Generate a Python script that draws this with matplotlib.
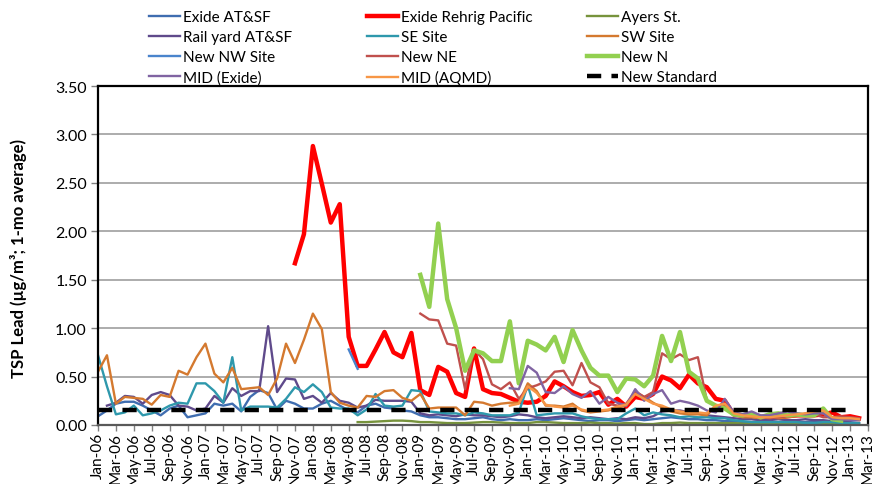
import numpy as np
import pandas as pd
import matplotlib
matplotlib.use('Agg')
import matplotlib.pyplot as plt

plt.rcParams['font.family'] = ['Lato', 'DejaVu Sans']

# monthly categories Jan-06 .. Mar-13
months = pd.date_range('2006-01-01', '2013-03-01', freq='MS').strftime('%b-%y').tolist()

# each series: first month index + monthly values (ug/m3, 1-mo average)
exide_atsf_start = 0
exide_atsf = [0.09, 0.15, 0.22, 0.24, 0.24, 0.20, 0.15, 0.10, 0.17, 0.20, 0.08, 0.10, 0.12, 0.22, 0.20, 0.22,
              0.14, 0.29, 0.36, 0.33, 0.16, 0.25,
              0.22, 0.17, 0.17, 0.22, 0.25, 0.20, 0.15, 0.13, 0.20, 0.22, 0.18, 0.17, 0.15, 0.14,
              0.10, 0.08, 0.08, 0.07, 0.06, 0.06, 0.07, 0.08, 0.06, 0.05,
              0.06, 0.05, 0.05, 0.06, 0.05, 0.06, 0.07, 0.06, 0.05, 0.04,
              0.05, 0.05, 0.04, 0.05, 0.06, 0.05, 0.06, 0.07, 0.08, 0.07,
              0.06, 0.06, 0.05, 0.05, 0.04, 0.04, 0.03, 0.03, 0.04, 0.03,
              0.03, 0.04, 0.03, 0.03, 0.04, 0.03, 0.03, 0.03, 0.03, 0.02]

rehrig_start = 22
rehrig = [1.67, 1.97, 2.88, 2.49, 2.09, 2.28, 0.91, 0.61, 0.61, 0.78, 0.96, 0.75, 0.70, 0.95,
          0.36, 0.31, 0.60, 0.55, 0.33, 0.29, 0.79, 0.37, 0.33, 0.32,
          0.28, 0.24, 0.23, 0.24, 0.30, 0.45, 0.40, 0.34, 0.30, 0.31,
          0.34, 0.21, 0.27, 0.19, 0.29, 0.27, 0.32, 0.50, 0.46, 0.38,
          0.52, 0.43, 0.39, 0.27, 0.25, 0.11, 0.10, 0.10, 0.08, 0.07,
          0.08, 0.09, 0.10, 0.10, 0.10, 0.11, 0.13, 0.08, 0.09, 0.07]

ayers_start = 29
ayers = [0.03, 0.03, 0.035, 0.04, 0.045, 0.045, 0.04, 0.03, 0.03, 0.025,
         0.02, 0.02, 0.02, 0.025, 0.03, 0.03, 0.025, 0.02, 0.02, 0.02,
         0.03, 0.03, 0.025, 0.02, 0.02, 0.02, 0.025, 0.02, 0.02, 0.015,
         0.02, 0.02, 0.01, 0.01, 0.02, 0.02, 0.025, 0.02, 0.02, 0.02,
         0.02, 0.02, 0.02, 0.015, 0.015, 0.02, 0.02, 0.015, 0.015, 0.02,
         0.02, 0.02, 0.015, 0.015, 0.01, 0.01, 0.01]

railyard_start = 1
railyard = [0.20, 0.23, 0.30, 0.29, 0.22, 0.31, 0.34, 0.31, 0.20, 0.19, 0.15, 0.17, 0.30, 0.23, 0.38,
            0.30, 0.35, 0.35, 1.02, 0.34, 0.48,
            0.47, 0.27, 0.30, 0.23, 0.33, 0.25, 0.23, 0.18, 0.20, 0.26, 0.25, 0.25, 0.25, 0.24,
            0.12, 0.10, 0.11, 0.10, 0.09, 0.11, 0.10, 0.10, 0.09, 0.08,
            0.09, 0.11, 0.10, 0.08, 0.07, 0.08, 0.09, 0.08, 0.07, 0.08,
            0.07, 0.06, 0.07, 0.06, 0.08, 0.07, 0.09, 0.14, 0.15, 0.15,
            0.13, 0.12, 0.10, 0.09, 0.08, 0.07, 0.06, 0.06, 0.05, 0.05,
            0.06, 0.05, 0.05, 0.06, 0.05, 0.05, 0.04, 0.04, 0.04]

se_start = 0
se_site = [0.72, 0.40, 0.11, 0.13, 0.20, 0.10, 0.12, 0.15, 0.20, 0.23, 0.22, 0.43, 0.43, 0.35, 0.23, 0.70,
           0.15, 0.19, 0.19, 0.19, 0.18, 0.27,
           0.39, 0.34, 0.42, 0.34, 0.18, 0.17, 0.17, 0.10, 0.16, 0.32, 0.20, 0.19, 0.20, 0.36, 0.35,
           0.14, 0.13, 0.12, 0.12, 0.10, 0.13, 0.12, 0.10, 0.10, 0.10,
           0.13, 0.41, 0.10, 0.11, 0.12, 0.12, 0.12, 0.09, 0.07, 0.06,
           0.06, 0.06, 0.12, 0.17, 0.10, 0.13, 0.11, 0.10, 0.08, 0.09,
           0.08, 0.08, 0.07, 0.07, 0.05, 0.04, 0.03, 0.03, 0.03, 0.03,
           0.03, 0.03, 0.02, 0.02, 0.03, 0.03, 0.02, 0.02, 0.02]

sw_start = 0
sw_site = [0.55, 0.72, 0.22, 0.29, 0.28, 0.27, 0.21, 0.31, 0.29, 0.56, 0.52, 0.70, 0.84, 0.53, 0.44, 0.59,
           0.37, 0.38, 0.39, 0.31, 0.48, 0.84,
           0.64, 0.88, 1.15, 0.99, 0.34, 0.23, 0.20, 0.18, 0.30, 0.29, 0.35, 0.36, 0.28, 0.25, 0.32,
           0.17, 0.18, 0.18, 0.18, 0.10, 0.24, 0.23, 0.20, 0.22, 0.23,
           0.23, 0.43, 0.35, 0.20, 0.20, 0.19, 0.22, 0.15, 0.13, 0.14,
           0.15, 0.18, 0.20, 0.34, 0.29, 0.23, 0.18, 0.14, 0.12, 0.11,
           0.11, 0.10, 0.20, 0.20, 0.10, 0.08, 0.08, 0.07, 0.08, 0.07,
           0.08, 0.09, 0.12, 0.14, 0.12, 0.06, 0.06, 0.06, 0.05]

nw_start = 28
nw_site = [0.78, 0.58]

ne_start = 36
ne_site = [1.15, 1.09, 1.08, 0.84, 0.82, 0.37, 0.78, 0.68, 0.42, 0.37,
           0.44, 0.27, 0.38, 0.41, 0.45, 0.55, 0.56, 0.41, 0.64, 0.44,
           0.39, 0.22, 0.20, 0.22, 0.35, 0.29, 0.34, 0.74, 0.68, 0.73,
           0.67, 0.70, 0.25, 0.20, 0.18, 0.10, 0.09, 0.10, 0.08, 0.07,
           0.08, 0.09, 0.10, 0.10, 0.11, 0.08, 0.08, 0.09, 0.08, 0.07]

n_start = 36
n_site = [1.55, 1.22, 2.08, 1.30, 1.00, 0.56, 0.77, 0.74, 0.66, 0.66,
          1.07, 0.43, 0.87, 0.83, 0.77, 0.91, 0.65, 0.98, 0.77, 0.59,
          0.51, 0.51, 0.34, 0.48, 0.47, 0.40, 0.51, 0.92, 0.66, 0.96,
          0.55, 0.48, 0.25, 0.20, 0.17, 0.11, 0.10, 0.12, 0.08, 0.11,
          0.12, 0.10, 0.11, 0.10, 0.10, 0.17, 0.06, 0.045]

mid_exide_start = 46
mid_exide = [0.38, 0.37, 0.61, 0.54, 0.34, 0.33, 0.40, 0.32, 0.28, 0.35,
             0.22, 0.29, 0.23, 0.20, 0.37, 0.25, 0.32, 0.36, 0.22, 0.25,
             0.23, 0.20, 0.15, 0.13, 0.27, 0.13, 0.11, 0.14, 0.10, 0.10,
             0.12, 0.14, 0.12, 0.11, 0.12, 0.12, 0.06, 0.06, 0.05, 0.05]

mid_aqmd_start = 46
mid_aqmd = [0.20, 0.22, 0.40, 0.33, 0.21, 0.19, 0.18, 0.20, 0.16, 0.14,
            0.15, 0.16, 0.19, 0.21, 0.32, 0.27, 0.22, 0.20, 0.16, 0.14,
            0.13, 0.13, 0.12, 0.20, 0.22, 0.12, 0.10, 0.09, 0.08, 0.08,
            0.09, 0.10, 0.11, 0.12, 0.14, 0.15, 0.08, 0.07, 0.07, 0.06]

std_level = 0.15
std_last = 84  # Jan-13

series = [
    ('Exide AT&SF', exide_atsf_start, exide_atsf, '#3F6DB0', 1.7),
    ('Exide Rehrig Pacific', rehrig_start, rehrig, '#FF0000', 3.2),
    ('Ayers St.', ayers_start, ayers, '#77933C', 1.7),
    ('Rail yard AT&SF', railyard_start, railyard, '#5F4A8B', 1.7),
    ('SE Site', se_start, se_site, '#2E98AC', 1.7),
    ('SW Site', sw_start, sw_site, '#D4792F', 1.7),
    ('New NW Site', nw_start, nw_site, '#4A84CC', 1.7),
    ('New NE', ne_start, ne_site, '#C0504D', 1.7),
    ('New N', n_start, n_site, '#92D050', 3.2),
    ('MID (Exide)', mid_exide_start, mid_exide, '#8064A2', 1.7),
    ('MID (AQMD)', mid_aqmd_start, mid_aqmd, '#F79646', 1.7),
]

n = len(months)
x = np.arange(n)

fig = plt.figure(figsize=(8.74, 4.85), dpi=100)
ax = fig.add_axes([98 / 874, 1 - 426 / 485, 770 / 874, 339 / 485])

handles = {}
for name, start, vals, col, lw in series:
    y = np.full(n, np.nan)
    y[start:start + len(vals)] = vals
    handles[name], = ax.plot(x, y, color=col, lw=lw, label=name)

std_x = x[:std_last + 1]
handles['New Standard'], = ax.plot(std_x, np.full(len(std_x), std_level), color='black', lw=3.2,
                                   dashes=(3.2, 2.3), label='New Standard')

ax.set_xlim(0, n - 1)
ax.set_ylim(0, 3.5)
ax.set_yticks(np.arange(0, 3.51, 0.5))
ax.set_yticklabels(['%.2f' % v for v in np.arange(0, 3.51, 0.5)], fontsize=11.5)
ax.set_xticks(x[::2])
ax.set_xticklabels(months[::2], rotation=90, fontsize=11, va='top')
ax.tick_params(axis='x', length=4, width=1, pad=1, color='#808080')
ax.tick_params(axis='y', length=5, width=1, pad=3, color='#808080')
ax.grid(axis='y', color='#A6A6A6', lw=1.3)
ax.set_axisbelow(True)
for s in ax.spines.values():
    s.set_color('black')
    s.set_linewidth(1.6)
ax.spines['bottom'].set_color('#595959')

fig.text(19 / 874, 1 - 258 / 485, 'TSP Lead (µg/m³; 1-mo average)', rotation=90,
         fontsize=12, fontweight='bold', ha='center', va='center')

# Excel-style legend: 4 rows x 3 columns, filled row-wise
order = [['Exide AT&SF', 'Rail yard AT&SF', 'New NW Site', 'MID (Exide)'],
         ['Exide Rehrig Pacific', 'SE Site', 'New NE', 'MID (AQMD)'],
         ['Ayers St.', 'SW Site', 'New N', 'New Standard']]
col_x = [149, 367, 587]
for cx, names in zip(col_x, order):
    fig.legend([handles[k] for k in names], names, loc='upper left',
               bbox_to_anchor=(cx / 874, 1 - 11 / 485), frameon=False, fontsize=11,
               borderpad=0, borderaxespad=0, handlelength=2.0, handletextpad=0.2,
               labelspacing=0.4)

fig.savefig('out.png', dpi=100)
